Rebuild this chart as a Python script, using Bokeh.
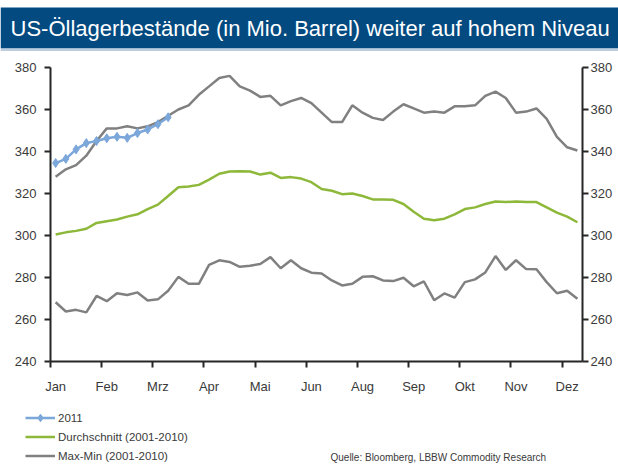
from bokeh.plotting import figure
from bokeh.models import (Range1d, LinearAxis, FixedTicker, Legend, LegendItem, Label,
                          BoxAnnotation)
from bokeh.embed import file_html
from bokeh.resources import INLINE

TITLE = "US-Öllagerbestände (in Mio. Barrel) weiter auf hohem Niveau"
SOURCE = "Quelle: Bloomberg, LBBW Commodity Research"
MONTH_LABELS = ["Jan", "Feb", "Mrz", "Apr", "Mai", "Jun", "Aug", "Sep", "Okt", "Nov", "Dez"]
WEEKS = list(range(52))
Y_TICKS = [240, 260, 280, 300, 320, 340, 360, 380]

Y2011 = [334.5, 336.5, 341, 344, 345, 346.3, 347, 346.5, 348.8, 350.5, 353, 356.3]

AVG = [300.5, 301.5, 302.2, 303.2, 306, 306.8, 307.6, 309, 310.1, 312.6,
       314.7, 318.8, 323, 323.3, 324.1, 326.6, 329.4, 330.5, 330.6, 330.5,
       329, 329.9, 327.4, 327.8, 327.1, 325.4, 322.1, 321.3, 319.7, 320,
       318.8, 317.2, 317.2, 317, 315, 311.3, 308, 307.3, 308, 310.1,
       312.6, 313.4, 315, 316.2, 315.9, 316.2, 315.9, 315.9, 313.4, 310.9,
       309, 306.3]

MAX = [328, 331.5, 333.5, 338, 345, 351, 351, 352, 351, 352,
       354, 357, 360, 362, 367, 371, 375, 376, 371, 369,
       366, 366.5, 362, 364, 365.5, 363, 358.5, 354, 354, 362,
       358.5, 356, 355, 359, 362.5, 360.5, 358.5, 359, 358.5, 361.5,
       361.5, 362, 366.5, 368.5, 365.5, 358.5, 359, 360.5, 355.5, 347,
       342, 340.5]

MIN = [268.2, 263.8, 264.6, 263.4, 271.2, 268.7, 272.5, 271.7, 272.9, 269.1,
       269.6, 273.7, 280.3, 277, 277, 286, 288.2, 287.4, 285.1, 285.6,
       286.4, 289.7, 284.4, 288.2, 284.4, 282.3, 281.9, 278.6, 276.2, 277,
       280.3, 280.6, 278.6, 278.3, 279.9, 275.8, 278.1, 269.2, 272.4, 270.4,
       277.8, 279.1, 282.4, 290.2, 283.6, 288.2, 284, 283.9, 277.8, 272.5,
       273.7, 269.9]

FONT = "Liberation Sans"
BLUE = "#7ba7da"
GREEN = "#8db83a"
GRAY = "#808080"
AXIS = "#262626"
TXT = "#3a3a3a"

# ---- layout geometry (pixels of the 618x468 canvas) ----
W, H = 618, 468
PLOT_L, PLOT_R, PLOT_T, PLOT_B = 50, 582, 67, 361
X0, X1 = -0.5, len(WEEKS) - 0.5
Y0, Y1 = Y_TICKS[0], Y_TICKS[-1]
PX_X = (PLOT_R - PLOT_L) / (X1 - X0)
PX_Y = (PLOT_B - PLOT_T) / (Y1 - Y0)
x_start = X0 - PLOT_L / PX_X
x_end = X1 + (W - PLOT_R) / PX_X
y_end = Y1 + PLOT_T / PX_Y
y_start = Y0 - (H - PLOT_B) / PX_Y


def py(pix):
    """canvas pixel row -> y data coordinate"""
    return y_end - pix / PX_Y


p = figure(width=W, height=H, output_backend="svg", toolbar_location=None,
           x_range=Range1d(x_start, x_end), y_range=Range1d(y_start, y_end),
           min_border=0, outline_line_color=None)
p.title.visible = False
p.grid.visible = False

r_max = p.line(WEEKS, MAX, line_color=GRAY, line_width=2.5)
r_min = p.line(WEEKS, MIN, line_color=GRAY, line_width=2.5)
r_avg = p.line(WEEKS, AVG, line_color=GREEN, line_width=2.5)
w11 = WEEKS[:len(Y2011)]
r_11l = p.line(w11, Y2011, line_color=BLUE, line_width=2.5)
r_11s = p.scatter(w11, Y2011, marker="diamond", size=9, fill_color=BLUE, line_color=BLUE)

right = LinearAxis()
p.add_layout(right, "right")

yaxes = p.yaxis
yaxes[0].fixed_location = X0
right.fixed_location = X1
for ax, standoff in ((yaxes[0], 8), (right, 2)):
    ax.bounds = (Y0, Y1)
    ax.ticker = FixedTicker(ticks=Y_TICKS)
    ax.axis_line_width = 2
    ax.axis_line_color = AXIS
    ax.major_tick_line_width = 2
    ax.major_tick_line_color = AXIS
    ax.major_tick_out = 6
    ax.major_tick_in = 0
    ax.minor_tick_line_color = None
    ax.major_label_text_font = FONT
    ax.major_label_text_font_size = "13px"
    ax.major_label_text_color = TXT
    ax.major_label_standoff = standoff

label_pos = WEEKS[::5]
xa = p.xaxis[0]
xa.fixed_location = Y0
xa.bounds = (X0, X1)
xa.ticker = FixedTicker(ticks=label_pos, minor_ticks=[w - 0.5 for w in label_pos])
xa.major_label_overrides = {w: m for w, m in zip(label_pos, MONTH_LABELS)}
xa.axis_line_width = 2
xa.axis_line_color = AXIS
xa.major_tick_line_color = None
xa.major_tick_out = 0
xa.major_tick_in = 0
xa.minor_tick_line_color = AXIS
xa.minor_tick_line_width = 2
xa.minor_tick_out = 6
xa.minor_tick_in = 0
xa.major_label_text_font = FONT
xa.major_label_text_font_size = "13px"
xa.major_label_text_color = TXT
xa.major_label_standoff = 11

# title bar
p.add_layout(BoxAnnotation(top=py(7), bottom=py(48), fill_color="#024a80", fill_alpha=1,
                           line_color=None))
p.add_layout(BoxAnnotation(top=py(48), bottom=py(50.5), fill_color="#bccde0", fill_alpha=1,
                           line_color=None))
p.add_layout(Label(x=10, y=py(28), x_units="screen", text=TITLE, text_color="white",
                   text_font=FONT, text_font_size="22px", text_baseline="middle"))

legend = Legend(items=[
    LegendItem(label="2011", renderers=[r_11l, r_11s]),
    LegendItem(label="Durchschnitt (2001-2010)", renderers=[r_avg]),
    LegendItem(label="Max-Min (2001-2010)", renderers=[r_max]),
], location=(25, 3), orientation="vertical", padding=0, margin=0, spacing=0,
    glyph_width=30, glyph_height=19, label_height=19, label_standoff=3,
    border_line_color=None, background_fill_alpha=0,
    label_text_font=FONT, label_text_font_size="11.5px", label_text_color=TXT)
p.add_layout(legend)

p.add_layout(Label(x=330, y=py(457), x_units="screen", text=SOURCE,
                   text_font=FONT, text_font_size="10px", text_color=TXT,
                   text_baseline="middle"))

open("out.html", "w").write(file_html(p, INLINE))
